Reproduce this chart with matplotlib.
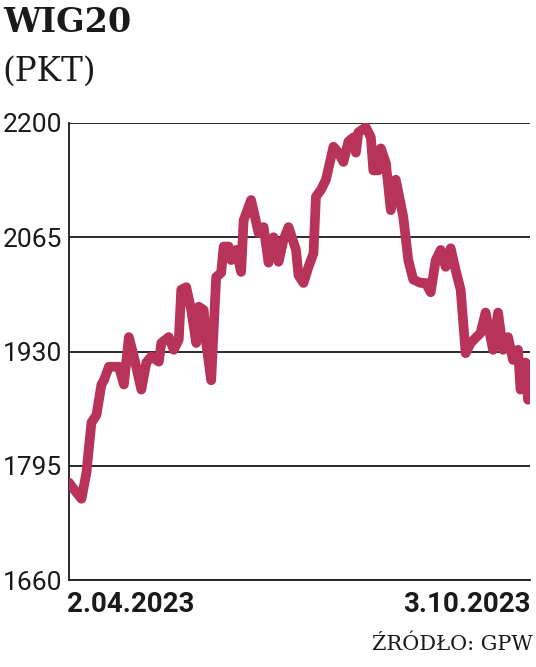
import matplotlib
matplotlib.use('Agg')
import matplotlib.pyplot as plt

# WIG20, 2.04.2023 - 3.10.2023 (days since start, index points)
days = [0, 2, 5, 7, 8, 9, 11, 13, 14, 16, 20, 22, 24, 26, 29, 31, 33, 36, 37, 40,
        42, 44, 45, 47, 49, 51, 52, 54, 55, 57, 59, 61, 62, 64, 65, 67, 69, 70, 73, 76,
        78, 80, 82, 84, 86, 88, 91, 92, 94, 96, 98, 99, 101, 103, 106, 108, 110, 112, 114, 115,
        116, 119, 121, 122, 124, 125, 127, 129, 131, 134, 136, 138, 141, 143, 145, 147, 149, 151, 153, 155,
        157, 159, 161, 165, 167, 170, 172, 174, 176, 178, 180, 181, 183, 184]
values = [1775, 1767, 1756, 1787, 1817, 1846, 1855, 1891, 1896, 1912, 1912, 1891, 1947, 1924, 1885, 1917, 1924, 1918, 1940, 1947,
          1932, 1944, 2003, 2006, 1979, 1940, 1983, 1979, 1940, 1896, 2018, 2023, 2054, 2054, 2038, 2050, 2024, 2085, 2109, 2070,
          2077, 2035, 2065, 2036, 2062, 2077, 2050, 2020, 2011, 2030, 2046, 2113, 2121, 2133, 2172, 2165, 2154, 2178, 2183, 2165,
          2189, 2195, 2183, 2144, 2144, 2170, 2153, 2097, 2133, 2089, 2038, 2015, 2011, 2011, 2000, 2038, 2050, 2030, 2052, 2026,
          2003, 1928, 1940, 1952, 1976, 1932, 1976, 1932, 1947, 1920, 1932, 1885, 1917, 1873]

yticks = [1660, 1795, 1930, 2065, 2200]
date_labels = ['2.04.2023', '3.10.2023']

LINE = '#b8335a'
INK = '#1a1a1a'

fig = plt.figure(figsize=(5.36, 6.67), dpi=100)
ax = fig.add_axes([69 / 536, 1 - 580 / 667, 461 / 536, 457 / 667])

ax.plot(days, values, color=LINE, linewidth=7.0, solid_joinstyle='round',
        solid_capstyle='round', zorder=3)

ax.set_ylim(1660, 2200)
ax.set_xlim(0, 184.8)
ax.set_yticks(yticks)
ax.set_yticklabels([str(t) for t in yticks], family='Roboto', fontsize=19, color=INK)
for lab in ax.get_yticklabels():
    lab.set_verticalalignment('center_baseline')
ax.tick_params(axis='y', length=0, pad=5)
ax.set_xticks([])
ax.yaxis.grid(True, color=INK, linewidth=1.3)
ax.set_axisbelow(True)

for s in ['top', 'right']:
    ax.spines[s].set_visible(False)
for s in ['left', 'bottom']:
    ax.spines[s].set_color(INK)
    ax.spines[s].set_linewidth(1.3)

# date labels under the axis
fig.text(67 / 536, 1 - 605 / 667, date_labels[0], ha='left', va='center',
         family='Roboto', fontweight='bold', fontsize=20, color=INK)
fig.text(531 / 536, 1 - 605 / 667, date_labels[1], ha='right', va='center',
         family='Roboto', fontweight='bold', fontsize=20, color=INK)

# title block
fig.text(3 / 536, 1 - 23 / 667, 'WIG20', ha='left', va='center',
         family='DejaVu Serif', fontweight='bold', fontsize=24, color=INK)
fig.text(2 / 536, 1 - 72 / 667, '(PKT)', ha='left', va='center',
         family='DejaVu Serif', fontsize=23.5, color=INK)

fig.text(533 / 536, 1 - 644 / 667, 'ŹRÓDŁO: GPW', ha='right', va='center',
         family='DejaVu Serif', fontsize=15, color=INK)

fig.savefig('out.png', dpi=100, facecolor='white')
